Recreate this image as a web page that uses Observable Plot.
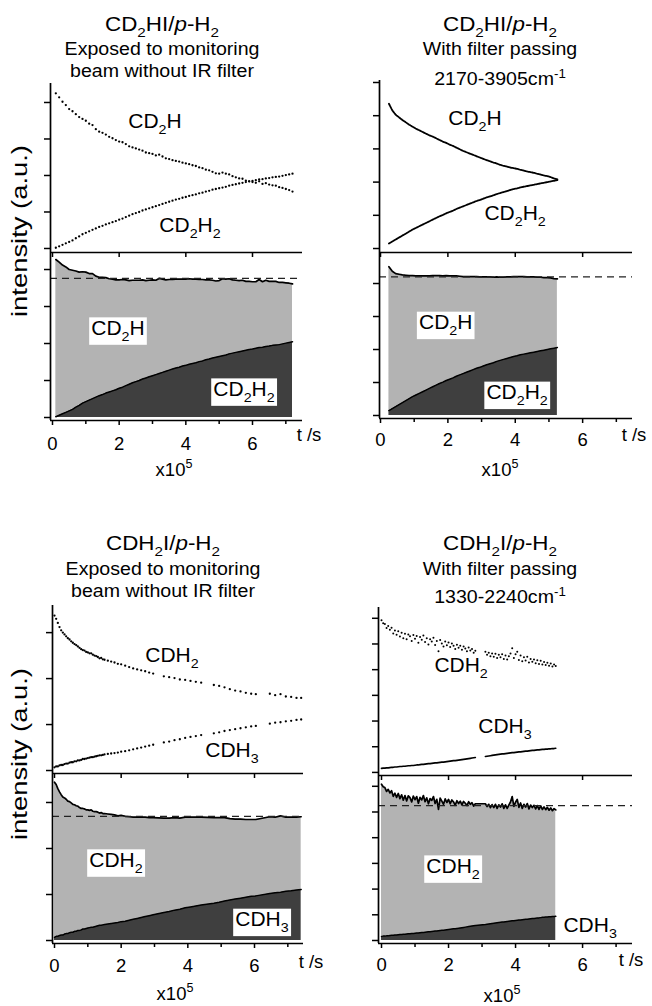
<!DOCTYPE html>
<html><head><meta charset="utf-8">
<script src="https://cdn.jsdelivr.net/npm/d3@7"></script>
<script src="https://cdn.jsdelivr.net/npm/@observablehq/plot@0.6"></script>
<style>
body{margin:0;background:#fff;}
#fig{position:relative;width:652px;height:1006px;overflow:hidden;background:#fff;}
#fig svg{position:absolute;}
</style></head><body><div id="fig"></div>
<script>
// ---------- data ----------
// Panel A: CD2HI/p-H2, no IR filter
const tA = [0.1,0.2,0.3,0.4,0.5,0.6,0.7,0.8,0.9,1.0,1.1,1.2,1.3,1.4,1.5,1.6,1.7,1.8,1.9,2.0,2.1,2.2,2.3,2.4,2.5,2.6,2.7,2.8,2.9,3.0,3.1,3.2,3.3,3.4,3.5,3.6,3.7,3.8,3.9,4.0,4.1,4.2,4.3,4.4,4.5,4.6,4.7,4.8,4.9,5.0,5.1,5.2,5.3,5.4,5.5,5.6,5.7,5.8,5.9,6.0,6.1,6.2,6.3,6.4,6.5,6.6,6.7,6.8,6.9,7.0,7.1,7.2];
const cd2hA = [4.25,4.14,4.02,3.93,3.82,3.76,3.68,3.60,3.55,3.50,3.42,3.38,3.27,3.20,3.17,3.12,3.06,3.02,2.97,2.93,2.91,2.86,2.80,2.77,2.74,2.71,2.68,2.63,2.61,2.59,2.55,2.57,2.52,2.47,2.45,2.42,2.40,2.38,2.35,2.33,2.31,2.28,2.26,2.22,2.20,2.16,2.14,2.10,2.06,2.05,2.08,2.05,2.03,1.98,1.95,1.92,1.91,1.86,1.84,1.82,1.80,1.84,1.77,1.79,1.75,1.73,1.72,1.68,1.66,1.63,1.60,1.56];
const cd2h2A = [0.02,0.06,0.10,0.14,0.18,0.22,0.28,0.33,0.39,0.43,0.47,0.51,0.55,0.59,0.62,0.66,0.69,0.72,0.75,0.79,0.82,0.86,0.90,0.94,0.97,1.00,1.04,1.07,1.10,1.13,1.16,1.19,1.22,1.25,1.28,1.31,1.34,1.36,1.39,1.41,1.44,1.46,1.48,1.51,1.53,1.56,1.58,1.61,1.63,1.65,1.67,1.69,1.72,1.74,1.76,1.78,1.80,1.82,1.84,1.85,1.87,1.89,1.90,1.92,1.93,1.95,1.96,1.97,1.99,2.01,2.03,2.05];
// Panel B: CD2HI/p-H2, filter 2170-3905 cm-1
const tB = [0.25,0.35,0.45,0.55,0.65,0.75,0.85,0.95,1.05,1.15,1.25,1.35,1.45,1.55,1.65,1.75,1.85,1.95,2.05,2.15,2.25,2.35,2.45,2.55,2.65,2.75,2.85,2.95,3.05,3.15,3.25,3.35,3.45,3.55,3.65,3.75,3.85,3.95,4.05,4.15,4.25,4.35,4.45,4.55,4.65,4.75,4.85,4.95,5.05,5.15,5.25];
const cd2hB = [4.36,4.16,4.03,3.95,3.87,3.80,3.73,3.67,3.61,3.56,3.51,3.46,3.41,3.37,3.32,3.27,3.22,3.18,3.13,3.09,3.04,2.99,2.94,2.90,2.86,2.82,2.78,2.74,2.70,2.66,2.63,2.59,2.56,2.52,2.49,2.47,2.44,2.42,2.40,2.37,2.35,2.32,2.30,2.28,2.25,2.23,2.20,2.18,2.15,2.11,2.08];
const cd2h2B = [0.15,0.21,0.27,0.33,0.39,0.45,0.51,0.57,0.62,0.67,0.72,0.77,0.82,0.87,0.92,0.97,1.01,1.06,1.10,1.14,1.19,1.23,1.27,1.31,1.35,1.39,1.43,1.46,1.50,1.54,1.57,1.60,1.64,1.67,1.70,1.73,1.76,1.79,1.81,1.84,1.86,1.88,1.90,1.92,1.94,1.96,1.98,2.00,2.02,2.04,2.06];
// Panel C: CDH2I/p-H2, no IR filter
const tC = [0,0.05,0.1,0.15,0.2,0.25,0.3,0.35,0.4,0.45,0.5,0.55,0.6,0.65,0.7,0.75,0.8,0.85,0.9,0.95,1.0,1.05,1.1,1.15,1.2,1.25,1.3,1.35,1.4,1.45,1.5,1.6,1.7,1.8,1.9,2.0,2.12,2.24,2.36,2.48,2.6,2.72,2.84,2.96,3.28,3.44,3.6,3.76,3.92,4.08,4.24,4.4,4.78,4.94,5.1,5.26,5.42,5.58,5.74,5.9,6.04,6.46,6.62,6.78,6.94,7.1,7.26,7.4];
const cdh2C = [3.37,3.30,3.21,3.12,3.05,3.00,2.96,2.92,2.88,2.85,2.81,2.78,2.75,2.73,2.70,2.67,2.64,2.62,2.61,2.58,2.57,2.55,2.55,2.52,2.50,2.49,2.47,2.44,2.45,2.42,2.41,2.39,2.37,2.35,2.32,2.31,2.28,2.25,2.22,2.20,2.18,2.16,2.13,2.11,2.05,2.03,2.01,1.98,1.97,1.95,1.93,1.91,1.86,1.84,1.81,1.77,1.74,1.72,1.69,1.67,1.66,1.67,1.64,1.66,1.61,1.60,1.58,1.58];
const cdh3C = [0.07,0.09,0.09,0.11,0.12,0.12,0.14,0.15,0.15,0.17,0.18,0.18,0.20,0.20,0.22,0.22,0.23,0.25,0.25,0.26,0.27,0.28,0.29,0.29,0.30,0.31,0.32,0.33,0.33,0.34,0.35,0.36,0.37,0.38,0.39,0.41,0.42,0.44,0.46,0.48,0.50,0.52,0.54,0.56,0.61,0.63,0.66,0.68,0.71,0.73,0.75,0.77,0.81,0.83,0.86,0.88,0.90,0.92,0.94,0.96,0.97,1.02,1.04,1.05,1.07,1.08,1.10,1.11];
// Panel D: CDH2I/p-H2, filter 1330-2240 cm-1
const tD = [0,0.05,0.1,0.15,0.2,0.25,0.3,0.35,0.4,0.45,0.5,0.55,0.6,0.65,0.7,0.75,0.8,0.85,0.9,0.95,1,1.05,1.1,1.15,1.2,1.25,1.3,1.35,1.4,1.45,1.5,1.55,1.6,1.65,1.7,1.75,1.8,1.85,1.9,1.95,2,2.05,2.1,2.15,2.2,2.25,2.3,2.35,2.4,2.45,2.5,2.55,2.6,2.65,2.7,2.75,2.8,
  3.1,3.15,3.2,3.25,3.3,3.35,3.4,3.45,3.5,3.55,3.6,3.65,3.7,3.75,3.8,3.85,3.9,3.95,4,4.05,4.1,4.15,4.2,4.25,4.3,4.35,4.4,4.45,4.5,4.55,4.6,4.65,4.7,4.75,4.8,4.85,4.9,4.95,5,5.05,5.1,5.15,5.2];
const cdh2D = [5.92,5.81,5.78,5.62,5.70,5.55,5.63,5.41,5.52,5.36,5.50,5.29,5.44,5.22,5.40,5.18,5.37,5.30,5.12,5.35,5.20,5.31,5.05,5.27,5.16,5.33,5.08,5.22,4.98,5.18,5.10,5.24,4.96,5.12,4.72,5.15,5.02,4.90,5.10,4.95,5.06,4.88,5.02,4.93,4.80,4.97,4.85,4.93,4.78,4.90,4.82,4.72,4.86,4.75,4.80,4.66,4.74,
  4.70,4.58,4.66,4.52,4.63,4.50,4.62,4.45,4.58,4.48,4.60,4.42,4.55,4.40,4.52,4.63,4.83,4.45,4.60,4.70,4.38,4.55,4.33,4.48,4.36,4.50,4.28,4.42,4.31,4.40,4.25,4.37,4.22,4.35,4.20,4.30,4.18,4.27,4.15,4.24,4.12,4.20,4.14];
const cdh3D = [0.16,0.17,0.17,0.18,0.18,0.19,0.20,0.20,0.21,0.21,0.22,0.23,0.23,0.24,0.24,0.25,0.26,0.26,0.27,0.27,0.28,0.29,0.29,0.30,0.31,0.31,0.32,0.33,0.34,0.34,0.35,0.36,0.37,0.37,0.38,0.39,0.40,0.40,0.41,0.42,0.43,0.44,0.45,0.46,0.46,0.47,0.48,0.49,0.50,0.51,0.52,0.53,0.54,0.55,0.56,0.57,0.58,
  0.62,0.63,0.64,0.65,0.66,0.67,0.68,0.69,0.70,0.71,0.72,0.72,0.73,0.74,0.75,0.76,0.77,0.77,0.78,0.79,0.80,0.80,0.81,0.82,0.83,0.83,0.84,0.85,0.86,0.86,0.87,0.88,0.88,0.89,0.90,0.90,0.91,0.91,0.92,0.92,0.93,0.93,0.94];
// asymptotic (dashed) level of the summed intensity, panels A-D
const asymptote = [3.76, 4.2, 2.7, 5.25];
// tick values
const xTicksMajor = [0, 2, 4, 6];
const xTicksMinor = [1, 3, 5, 7];
// texts
const titles = [
  ["CD_{2}HI/~{p}-H_{2}", "Exposed to monitoring", "beam without IR filter"],
  ["CD_{2}HI/~{p}-H_{2}", "With filter passing", "2170-3905cm^{-1}"],
  ["CDH_{2}I/~{p}-H_{2}", "Exposed to monitoring", "beam without IR filter"],
  ["CDH_{2}I/~{p}-H_{2}", "With filter passing", "1330-2240cm^{-1}"]
];
const speciesA = ["CD_{2}H", "CD_{2}H_{2}"];
const speciesC = ["CDH_{2}", "CDH_{3}"];
const yLabel = "intensity (a.u.)";
const xLabel = "t /s";
const xUnit = "x10^{5}";

// ---------- layout ----------
const FONT = "'Liberation Sans', Arial, Helvetica, sans-serif";
const DARK = "#3f3f3f", LIGHT = "#b3b3b3";
const quads = [
  {t:tA, a:cd2hA, b:cd2h2A, sp:speciesA, upper:"dots", L:0, W:326, xr:[50,302], xd:[-0.06,7.5],
   up:{T:60, H:200, top:83, bot:252, yd:[-0.11,4.52], ticks:[0,1,2,3,4]},
   lo:{T:252, H:210, top:252, bot:420, yd:[-0.081,4.46], ticks:[0,1,2,3,4], pad:11},
   labUp:[[3.09,3.29],[4.14,0.44]], labLo:[[1.98,2.22,true],[5.76,0.57,true]]},
  {t:tB, a:cd2hB, b:cd2h2B, sp:speciesA, upper:"lines", L:326, W:326, xr:[379,632], xd:[-0.03,7.48],
   up:{T:60, H:200, top:80, bot:252, yd:[-0.12,5.06], ticks:[0,1,2,3,4,5]},
   lo:{T:252, H:210, top:252, bot:418, yd:[-0.091,4.94], ticks:[0,1,2,3,4], pad:9},
   labUp:[[2.82,3.7],[4.01,0.84]], labLo:[[1.95,2.6,true],[4.07,0.48,true]]},
  {t:tC, a:cdh2C, b:cdh3C, sp:speciesC, upper:"dots", L:0, W:326, xr:[52,303], xd:[-0.06,7.47],
   up:{T:585, H:196, top:605, bot:773, yd:[-0.065,3.59], ticks:[0,1,2,3]},
   lo:{T:773, H:233, top:773, bot:943, yd:[-0.065,3.63], ticks:[0,1,2,3], pad:10},
   labUp:[[3.54,2.35],[5.34,0.28]], labLo:[[1.86,1.59,true],[6.24,0.3,true]]},
  {t:tD, a:cdh2D, b:cdh3D, sp:speciesC, upper:"cloud", L:326, W:326, xr:[378,632], xd:[-0.09,7.49],
   up:{T:585, H:198, top:607, bot:775, yd:[-0.12,6.42], ticks:[0,1,2,3,4,5,6]},
   lo:{T:775, H:231, top:775, bot:943, yd:[-0.117,6.42], ticks:[0,1,2,3,4,5,6], pad:9},
   labUp:[[2.39,3.89],[3.7,1.52]], labLo:[[2.15,2.61,true],[6.24,0.31,false]]}
];
const titlePos = [[162,[31,55,77]],[500,[31,55,85]],[163,[550,575,597]],[500,[550,575,603]]];
const xLabelPos = [[309,441],[634,441],[311,968],[631,966]];
const xUnitPos = [[174,476],[500,476],[175,1000],[502,1002]];
const yLabelPos = [[27,231],[27,754]];

const fig = document.getElementById("fig");

function rich(parent, str, size) {
  const text = parent.append("text").attr("font-size", size).attr("font-family", FONT).attr("fill", "black");
  const re = /([_^~])\{([^}]*)\}|([^_^~]+)/g;
  let m, shift = 0;
  while ((m = re.exec(str))) {
    if (m[3] !== undefined) {
      text.append("tspan").attr("dy", -shift).text(m[3]); shift = 0;
    } else if (m[1] === "~") {
      text.append("tspan").attr("dy", -shift).attr("font-style", "italic").text(m[2]); shift = 0;
    } else {
      const d = m[1] === "_" ? size * 0.3 : -size * 0.42;
      text.append("tspan").attr("dy", d - shift).attr("font-size", size * 0.68).text(m[2]); shift = d;
    }
  }
  return text;
}
function placeText(sel, x, y, str, size, k, box) {
  const g = sel.append("g").attr("transform", `translate(${x},${y}) scale(${k},1)`);
  const txt = rich(g, str, size).attr("text-anchor", "middle");
  if (box) {
    const bb = txt.node().getBBox();
    g.insert("rect", "text").attr("x", bb.x - 2).attr("y", bb.y + 1)
      .attr("width", bb.width + 4).attr("height", bb.height).attr("fill", "white");
  }
  return g;
}

function place(svg, L, T) {
  svg.style.position = "absolute";
  svg.style.left = L + "px";
  svg.style.top = T + "px";
  svg.style.overflow = "visible";
  svg.style.background = "transparent";
  fig.appendChild(svg);
  return svg;
}

quads.forEach((q, qi) => {
  const rows = q.t.map((t, i) => ({t, a: q.a[i], b: q.b[i], s: q.a[i] + q.b[i]}));
  let seg = 0;
  rows.forEach((r, i) => { if (i > 0 && r.t - rows[i - 1].t > 0.2) seg++; r.seg = seg; });
  const style = {fontFamily: FONT, fontSize: "18.5px", color: "black", background: "transparent", overflow: "visible"};
  const margins = (p) => ({
    marginLeft: q.xr[0] - q.L, marginRight: q.L + q.W - q.xr[1],
    marginTop: p.top - p.T, marginBottom: p.T + p.H - p.bot
  });
  // ---- upper panel: raw intensities ----
  const upMarks = [];
  if (q.upper === "dots") {
    upMarks.push(Plot.dot(rows, {x: "t", y: "a", r: 1.15, fill: "black", stroke: null}));
    upMarks.push(Plot.dot(rows, {x: "t", y: "b", r: 1.15, fill: "black", stroke: null}));
  } else if (q.upper === "lines") {
    upMarks.push(Plot.line(rows, {x: "t", y: "a", stroke: "black", strokeWidth: 1.8, strokeDasharray: "2 0.9"}));
    upMarks.push(Plot.line(rows, {x: "t", y: "b", stroke: "black", strokeWidth: 1.8, strokeDasharray: "2 0.9"}));
  } else {
    upMarks.push(Plot.dot(rows, {x: "t", y: "a", r: 1.0, fill: "black", stroke: null}));
    upMarks.push(Plot.line(rows, {x: "t", y: "b", z: "seg", stroke: "black", strokeWidth: 1.7}));
  }
  const up = Plot.plot({
    width: q.W, height: q.up.H, ...margins(q.up), style,
    x: {domain: q.xd}, y: {domain: q.up.yd},
    marks: [
      ...upMarks,
      Plot.ruleX([q.xd[0]], {stroke: "black", strokeWidth: 1.7}),
      Plot.ruleY([q.up.yd[0]], {stroke: "black", strokeWidth: 1.7}),
      Plot.axisY(q.up.ticks, {anchor: "left", tickSize: 6, tickFormat: () => "", label: null, strokeWidth: 1.5}),
      Plot.axisX(xTicksMajor, {anchor: "bottom", tickSize: 5, tickFormat: () => "", label: null, strokeWidth: 1.5})
    ]
  });
  place(up, q.L, q.up.T);
  // ---- lower panel: stacked composition ----
  const lo = Plot.plot({
    width: q.W, height: q.lo.H, ...margins(q.lo), style,
    x: {domain: q.xd}, y: {domain: q.lo.yd},
    marks: [
      Plot.areaY(rows, {x: "t", y1: 0, y2: "b", fill: DARK}),
      Plot.areaY(rows, {x: "t", y1: "b", y2: "s", fill: LIGHT}),
      Plot.line(rows, {x: "t", y: "b", stroke: "black", strokeWidth: 1.5}),
      Plot.line(rows, {x: "t", y: "s", stroke: "black", strokeWidth: 1.7}),
      Plot.ruleY([asymptote[qi]], {stroke: "#222", strokeWidth: 1.2, strokeDasharray: "7 5"}),
      Plot.ruleX([q.xd[0]], {stroke: "black", strokeWidth: 1.7}),
      Plot.ruleY([q.lo.yd[0]], {stroke: "black", strokeWidth: 1.7}),
      Plot.axisY(q.lo.ticks, {anchor: "left", tickSize: 6, tickFormat: () => "", label: null, strokeWidth: 1.5}),
      Plot.axisX(xTicksMinor, {anchor: "bottom", tickSize: 4, tickFormat: () => "", label: null, strokeWidth: 1.5}),
      Plot.axisX(xTicksMajor, {anchor: "bottom", tickSize: 5, tickPadding: q.lo.pad, tickFormat: d => String(d), label: null, fontSize: 18.5, strokeWidth: 1.5})
    ]
  });
  place(lo, q.L, q.lo.T);
  // species labels positioned through each panel's scales
  const su = d3.select(up), sl = d3.select(lo);
  q.labUp.forEach(([t, v], i) => placeText(su, up.scale("x").apply(t), up.scale("y").apply(v), q.sp[i], 20, 1.05, false));
  q.labLo.forEach(([t, v, box], i) => placeText(sl, lo.scale("x").apply(t), lo.scale("y").apply(v), q.sp[i], 20, 1.05, box));
});

// ---- overlay texts: titles, axis labels ----
const ov = d3.create("svg").attr("width", 652).attr("height", 1006)
  .style("position", "absolute").style("left", "0px").style("top", "0px").style("overflow", "visible");
fig.appendChild(ov.node());
titles.forEach((lines, qi) => {
  const [cx, bls] = titlePos[qi];
  lines.forEach((s, li) => placeText(ov, cx, bls[li], s, li === 0 ? 20 : 17.5, 1.12, false));
});
xLabelPos.forEach(([x, y]) => placeText(ov, x, y, xLabel, 18.5, 1.0, false));
xUnitPos.forEach(([x, y]) => placeText(ov, x, y, xUnit, 18.5, 1.0, false));
yLabelPos.forEach(([x, y]) => {
  const g = ov.append("g").attr("transform", `translate(${x},${y}) rotate(-90)`);
  g.append("text").attr("text-anchor", "middle").attr("font-family", FONT).attr("font-size", 21.5)
    .attr("textLength", 172).attr("lengthAdjust", "spacingAndGlyphs").text(yLabel);
});
</script>
</body></html>
